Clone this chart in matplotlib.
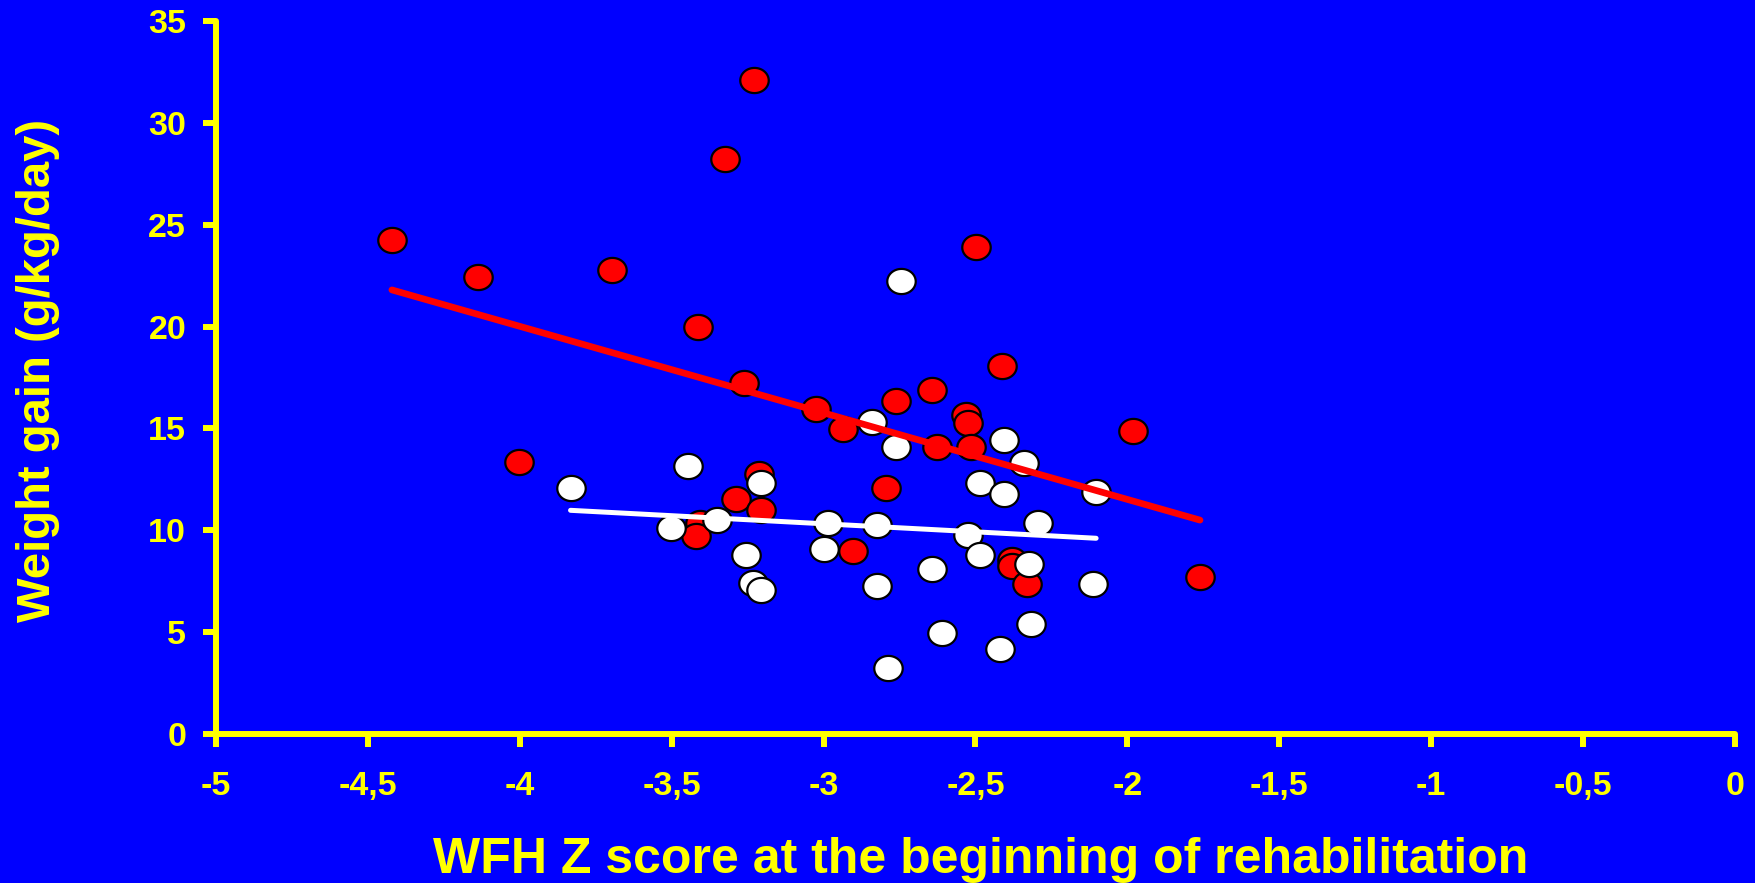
import numpy as np
import matplotlib
matplotlib.use("Agg")
import matplotlib.pyplot as plt
from matplotlib.path import Path

# ---- data ----
red_x = [-4.421, -4.137, -3.695, -3.230, -3.326, -3.414, -4.004, -3.263, -2.499, -2.413,
         -1.983, -3.024, -2.937, -2.762, -2.643, -2.532, -2.524, -2.627, -2.515, -2.795,
         -3.214, -3.287, -3.206, -3.407, -3.420, -2.904, -2.381, -2.381, -2.332, -1.761]
red_y = [24.27, 22.45, 22.78, 32.09, 28.23, 19.98, 13.37, 17.23, 23.93, 18.06,
         14.85, 15.93, 14.95, 16.36, 16.88, 15.65, 15.28, 14.10, 14.10, 12.08,
         12.74, 11.56, 11.02, 10.36, 9.71, 8.99, 8.53, 8.23, 7.38, 7.71]

white_x = [-3.833, -3.445, -3.206, -3.503, -3.350, -2.985, -3.000, -3.254, -3.232, -3.206,
           -2.745, -2.841, -2.762, -2.405, -2.339, -2.103, -2.485, -2.405, -2.825, -2.524,
           -2.293, -2.485, -2.325, -2.642, -2.825, -2.112, -2.611, -2.317, -2.419, -2.788]
white_y = [12.09, 13.15, 12.30, 10.12, 10.50, 10.36, 9.10, 8.78, 7.41, 7.06,
           22.24, 15.30, 14.10, 14.42, 13.28, 11.89, 12.30, 11.76, 10.28, 9.76,
           10.38, 8.78, 8.33, 8.12, 7.26, 7.38, 4.95, 5.42, 4.18, 3.25]

x_ticks = [-5, -4.5, -4, -3.5, -3, -2.5, -2, -1.5, -1, -0.5, 0]
x_tick_labels = ["-5", "-4,5", "-4", "-3,5", "-3", "-2,5", "-2", "-1,5", "-1", "-0,5", "0"]
y_ticks = [0, 5, 10, 15, 20, 25, 30, 35]
y_tick_labels = ["0", "5", "10", "15", "20", "25", "30", "35"]

x_label = "WFH Z score at the beginning of rehabilitation"
y_label = "Weight gain (g/kg/day)"

BLUE = "#0000FF"
YELLOW = "#FFFF00"

plt.rcParams['font.family'] = ['Liberation Sans', 'DejaVu Sans']
plt.rcParams['font.weight'] = 'bold'

W, H = 1756, 883
fig = plt.figure(figsize=(W / 100, H / 100), dpi=100, facecolor=BLUE)
ax = fig.add_axes([216 / W, 1 - 734 / H, (1735 - 216) / W, (734 - 21) / H])
ax.set_facecolor(BLUE)
ax.set_xlim(-5, 0)
ax.set_ylim(0, 35)

# slightly wide ellipse marker
t = np.linspace(0, 2 * np.pi, 64)
ell = Path(np.column_stack([1.13 * np.cos(t), np.sin(t)]), closed=True)

ax.plot(red_x, red_y, linestyle='none', marker=ell, markersize=20.5,
        markerfacecolor='#FF0000', markeredgecolor='black', markeredgewidth=1.6, zorder=3)
ax.plot(white_x, white_y, linestyle='none', marker=ell, markersize=20.5,
        markerfacecolor='white', markeredgecolor='black', markeredgewidth=1.6, zorder=4)

# regression lines
for xs, ys, col, lw in [(red_x, red_y, '#FF0000', 4.8), (white_x, white_y, 'white', 3.6)]:
    xs = np.asarray(xs); ys = np.asarray(ys)
    k, b = np.polyfit(xs, ys, 1)
    xx = np.array([xs.min(), xs.max()])
    ax.plot(xx, k * xx + b, color=col, linewidth=lw, solid_capstyle='round', zorder=5)

for s in ['top', 'right']:
    ax.spines[s].set_visible(False)
for s in ['left', 'bottom']:
    ax.spines[s].set_color(YELLOW)
    ax.spines[s].set_linewidth(4.3)
    ax.spines[s].set_capstyle('round')

ax.set_xticks(x_ticks)
ax.set_xticklabels(x_tick_labels)
ax.set_yticks(y_ticks)
ax.set_yticklabels(y_tick_labels)
ax.tick_params(axis='both', direction='out', length=9.5, width=4.3, color=YELLOW,
               labelcolor=YELLOW, labelsize=24.5)
ax.tick_params(axis='x', pad=17)
ax.tick_params(axis='y', pad=12)
for lab in ax.get_xticklabels() + ax.get_yticklabels():
    lab.set_fontweight('bold')
for tl in ax.xaxis.get_ticklines() + ax.yaxis.get_ticklines():
    tl.set_solid_capstyle('round')

ax.set_xlabel(x_label, color=YELLOW, fontsize=36, fontweight='bold', va='center')
ax.xaxis.set_label_coords((981 - 216) / 1519, (734 - 860) / 713)
ax.set_ylabel(y_label, color=YELLOW, fontsize=34, fontweight='bold', va='center')
ax.yaxis.set_label_coords((38 - 216) / 1519, (734 - 370) / 713)

fig.savefig("out.png", dpi=100, facecolor=BLUE)
